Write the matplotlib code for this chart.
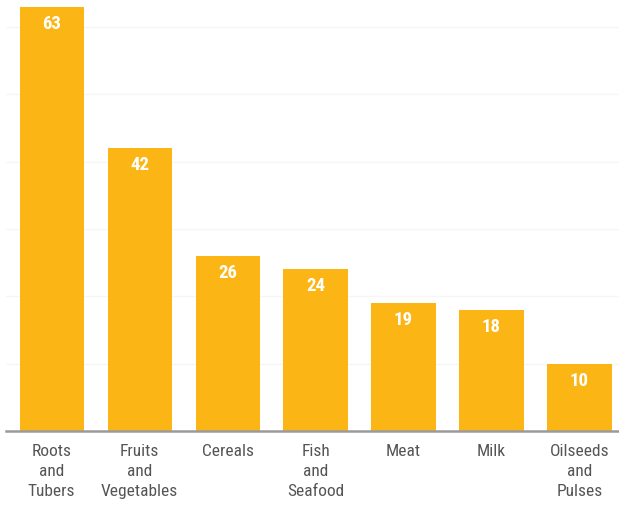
import matplotlib
matplotlib.use("Agg")
import matplotlib.pyplot as plt
from matplotlib import font_manager

categories = ["Roots\nand\nTubers", "Fruits\nand\nVegetables", "Cereals", "Fish\nand\nSeafood", "Meat", "Milk", "Oilseeds\nand\nPulses"]
values = [63, 42, 26, 24, 19, 18, 10]

fonts = font_manager.fontManager.ttflist
names = {f.name for f in fonts}
narrow = None
for cand in ["Liberation Sans Narrow", "Roboto Condensed", "Open Sans Condensed", "DejaVu Sans Condensed"]:
    if cand in names:
        narrow = cand
        break
cond_files = [f.fname for f in fonts if "Condensed" in f.fname and "DejaVuSans" in f.fname and "Bold" not in f.fname and "Oblique" not in f.fname]
cond_bold = [f.fname for f in fonts if "DejaVuSansCondensed-Bold.ttf" in f.fname]

from matplotlib.font_manager import FontProperties
LAB, VAL = 12.5, 13.5
if narrow:
    fp_lab = FontProperties(family=narrow, size=LAB)
    fp_val = FontProperties(family=narrow, size=VAL, weight="bold")
elif cond_files:
    fp_lab = FontProperties(fname=cond_files[0], size=LAB)
    fp_val = FontProperties(fname=cond_bold[0], size=VAL) if cond_bold else FontProperties(fname=cond_files[0], size=VAL, weight="bold")
else:
    fp_lab = FontProperties(family="DejaVu Sans", size=LAB, stretch="condensed")
    fp_val = FontProperties(family="DejaVu Sans", size=VAL, weight="bold", stretch="condensed")

W, H = 619, 508
fig = plt.figure(figsize=(W/100, H/100), dpi=100)
ax = fig.add_axes([6/W, (H-431)/H, 613/W, 431/H])

x = list(range(len(categories)))
color = "#FBB615"
ax.bar(x, values, width=0.73, color=color, zorder=2)
ax.set_xlim(-0.52, 6.45)
ax.set_ylim(0, 64)

for v in range(10, 61, 10):
    ax.axhline(v, color="#f5f7f5", lw=1, zorder=1)

for xi, v in zip(x, values):
    ax.annotate(str(v), (xi, v), xytext=(0, -17), textcoords="offset pixels",
                ha="center", va="center", color="white", fontproperties=fp_val, zorder=3)

for s in ["top", "right", "left"]:
    ax.spines[s].set_visible(False)
ax.spines["bottom"].set_color("#9a9a9a")
ax.spines["bottom"].set_linewidth(1.8)
ax.set_yticks([])
ax.set_xticks(x)
ax.set_xticklabels(categories, color="#555555", linespacing=1.42)
for t in ax.get_xticklabels():
    t.set_fontproperties(fp_lab)
ax.tick_params(axis="x", length=0, pad=9)

fig.savefig("out.png", dpi=100)
